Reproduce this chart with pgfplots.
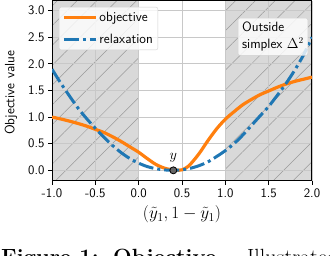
\documentclass[border=0pt]{standalone}
\usepackage{pgfplots}
\pgfplotsset{compat=1.18}
\usetikzlibrary{patterns.meta}
\definecolor{mplorange}{HTML}{FF7F0E}
\definecolor{mplblue}{HTML}{1F77B4}
\definecolor{shade}{HTML}{D9D9D9}
\definecolor{gridc}{HTML}{C8C8C8}
\definecolor{hatchc}{HTML}{9A9A9A}

\begin{document}
\begin{tikzpicture}[x=1pt,y=1pt]
\begin{axis}[
  set layers,
  at={(52pt,75pt)}, anchor=south west,
  scale only axis, width=260pt, height=180pt,
  xmin=-1, xmax=2, ymin=-0.2, ymax=3.18,
  xtick={-1,-0.5,0,0.5,1,1.5,2},
  xticklabels={-1.0,-0.5,0.0,0.5,1.0,1.5,2.0},
  ytick={0,0.5,1,1.5,2,2.5,3},
  yticklabels={0.0,0.5,1.0,1.5,2.0,2.5,3.0},
  ticklabel style={font=\fontsize{13}{15}\selectfont\sffamily},
  tick align=outside, tick pos=left, major tick length=4pt,
  tick style={black, line width=0.8pt},
  grid=major, grid style={gridc, line width=0.8pt},
  axis line style={line width=1pt},
  xlabel={$(\tilde y_1, 1-\tilde y_1)$},
  xlabel style={font=\fontsize{17}{19}\selectfont, at={(axis description cs:0.5,-0.185)}, anchor=center},
  ylabel={Objective value},
  ylabel style={font=\fontsize{13.5}{15}\selectfont\sffamily, at={(axis description cs:-0.158,0.49)}, anchor=center, rotate=0},
  legend style={at={(0.027,0.967)}, anchor=north west,
    font=\fontsize{13.5}{15}\selectfont\sffamily,
    fill=white, fill opacity=0.8, draw opacity=1, text opacity=1,
    draw=gray!35, rounded corners=2pt, inner xsep=3pt, inner ysep=3pt,
    row sep=7pt,
    /tikz/every even column/.append style={column sep=6pt}},
  legend cell align=left,
  legend image code/.code={\draw[#1] (0pt,0pt) -- (32pt,0pt);},
]
% shaded regions outside the simplex
\addplot[draw=none, fill=shade, on layer=axis background, forget plot]
  coordinates {(-1,-0.2) (0,-0.2) (0,3.18) (-1,3.18)} -- cycle;
\addplot[draw=none, fill=shade, on layer=axis background, forget plot]
  coordinates {(1,-0.2) (2,-0.2) (2,3.18) (1,3.18)} -- cycle;
\addplot[draw=none, pattern={Lines[angle=45,distance=14pt,line width=0.5pt]}, pattern color=hatchc, on layer=axis background, forget plot]
  coordinates {(-1,-0.2) (0,-0.2) (0,3.18) (-1,3.18)} -- cycle;
\addplot[draw=none, pattern={Lines[angle=45,distance=14pt,line width=0.5pt]}, pattern color=hatchc, on layer=axis background, forget plot]
  coordinates {(1,-0.2) (2,-0.2) (2,3.18) (1,3.18)} -- cycle;

% target point y
\addplot[only marks, mark=*, mark size=3.5pt, mark options={fill=black!60, draw=black, line width=0.8pt}, forget plot]
  coordinates {(0.4,0)};

\addplot[mplorange, line width=3.2pt, smooth] coordinates {
(-1.0,1.00) (-0.9,0.965) (-0.8,0.925) (-0.7,0.88) (-0.6,0.83) (-0.5,0.77)
(-0.4,0.71) (-0.3,0.63) (-0.2,0.54) (-0.1,0.44) (0.0,0.34) (0.1,0.22)
(0.2,0.11) (0.3,0.04) (0.4,0.005) (0.45,0.0) (0.5,0.01) (0.55,0.05)
(0.6,0.12) (0.7,0.32) (0.8,0.56) (0.9,0.78) (1.0,0.96) (1.1,1.10)
(1.2,1.23) (1.3,1.33) (1.4,1.42) (1.5,1.49) (1.6,1.56) (1.7,1.62)
(1.8,1.67) (1.9,1.71) (2.0,1.75)};
\addlegendentry{objective}

\addplot[mplblue, line width=3pt, smooth, dash pattern=on 15pt off 4pt on 3pt off 4pt] coordinates {
(-1.0,1.90) (-0.9,1.64) (-0.8,1.40) (-0.7,1.17) (-0.6,0.97) (-0.5,0.79)
(-0.4,0.62) (-0.3,0.465) (-0.2,0.33) (-0.1,0.22) (0.0,0.135) (0.1,0.07)
(0.2,0.03) (0.3,0.008) (0.4,0.0) (0.5,0.01) (0.6,0.04) (0.7,0.09)
(0.8,0.16) (0.9,0.26) (1.0,0.37) (1.1,0.50) (1.2,0.66) (1.3,0.84)
(1.4,1.02) (1.5,1.20) (1.6,1.41) (1.7,1.63) (1.8,1.88) (1.9,2.16) (2.0,2.50)};
\addlegendentry{relaxation}

\node[font=\fontsize{15}{17}\selectfont, anchor=base] at (axis cs:0.4,0.2) {$y$};

\node[anchor=north west, fill=white, fill opacity=0.8, text opacity=1, draw=gray!35, draw opacity=1,
  rounded corners=2pt, align=left, inner xsep=4pt, inner ysep=4pt,
  font=\fontsize{13.5}{17}\selectfont\sffamily]
  at (rel axis cs:0.715,0.906) {Outside\\simplex $\Delta^2$};
\end{axis}
\node[anchor=base west, inner sep=0pt, font=\fontsize{22}{26}\selectfont\bfseries] at (1,-9) {Figure 1:};
\node[anchor=base west, inner sep=0pt, font=\fontsize{22}{26}\selectfont\bfseries] at (113,-9) {Objective.};
\node[anchor=base west, inner sep=0pt, font=\fontsize{22}{26}\selectfont] at (247,-9) {Illustrated};
\pgfresetboundingbox
\useasboundingbox (0,0) rectangle (330,256);
\end{tikzpicture}
\end{document}
